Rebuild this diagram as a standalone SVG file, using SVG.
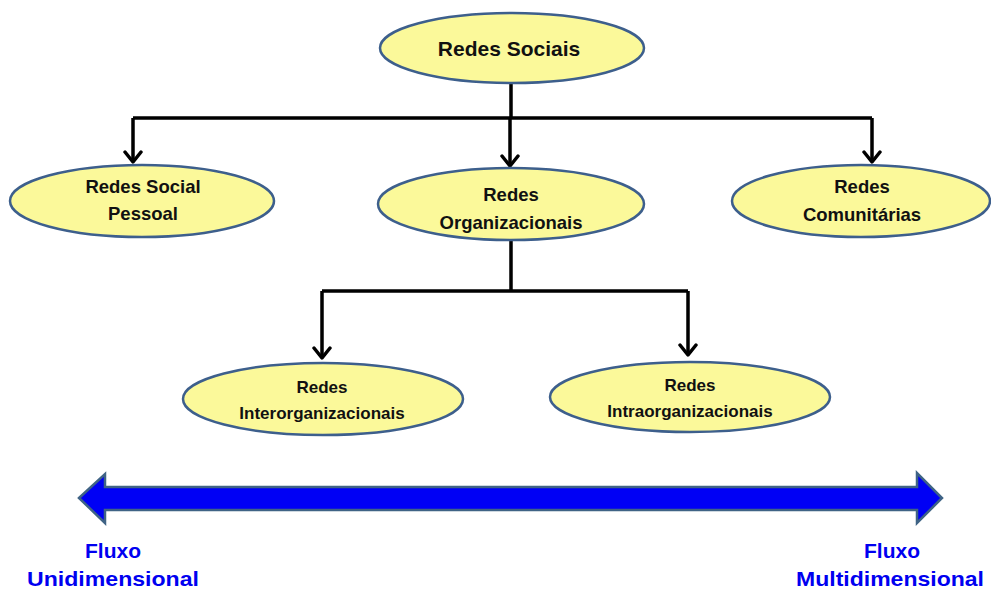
<svg xmlns="http://www.w3.org/2000/svg" width="991" height="592" viewBox="0 0 991 592">
  <style>
    .node ellipse { fill: #FBF99A; stroke: #3D5F8C; stroke-width: 2.5; }
    .node text { font-family: "Liberation Sans", Arial, sans-serif; font-weight: bold; fill: #111; text-anchor: middle; }
    .link { fill: none; stroke: #000; stroke-width: 3.5; stroke-linejoin: miter; }
    .head { fill: none; stroke: #000; stroke-width: 3.5; stroke-linecap: round; stroke-linejoin: round; }
    .flow text { font-family: "Liberation Sans", Arial, sans-serif; font-weight: bold; fill: #0000F0; text-anchor: middle; font-size: 21px; }
  </style>

  <rect width="991" height="592" fill="#FFFFFF"/>

  <!-- connectors -->
  <g id="connectors">
    <path class="link" d="M511 83 V118 M133 118 H872 M133 118 V162 M510 118 V166 M872 118 V162"/>
    <path class="head" d="M125 152 L133 162 L141 152 M502 156 L510 166 L518 156 M864 152 L872 162 L880 152"/>
    <path class="link" d="M511 240 V291 M322 291 H688 M322 291 V358 M688 291 V355"/>
    <path class="head" d="M314 348 L322 358 L330 348 M680 345 L688 355 L696 345"/>
  </g>

  <g id="redes-sociais" class="node">
    <ellipse cx="512" cy="48" rx="132" ry="35"/>
    <text x="509" y="56" font-size="21">Redes Sociais</text>
  </g>

  <g id="redes-social-pessoal" class="node">
    <ellipse cx="142" cy="201" rx="132" ry="36"/>
    <text x="143" y="193" font-size="18.5">Redes Social</text>
    <text x="143" y="220" font-size="18.5">Pessoal</text>
  </g>

  <g id="redes-organizacionais" class="node">
    <ellipse cx="511" cy="204" rx="133" ry="36"/>
    <text x="511" y="201" font-size="18.5">Redes</text>
    <text x="511" y="229" font-size="18.5">Organizacionais</text>
  </g>

  <g id="redes-comunitarias" class="node">
    <ellipse cx="861" cy="201" rx="129" ry="36"/>
    <text x="862" y="193" font-size="18.5">Redes</text>
    <text x="862" y="221" font-size="18.5">Comunitárias</text>
  </g>

  <g id="redes-interorganizacionais" class="node">
    <ellipse cx="323" cy="399" rx="140" ry="36"/>
    <text x="322" y="393" font-size="17">Redes</text>
    <text x="322" y="419" font-size="17">Interorganizacionais</text>
  </g>

  <g id="redes-intraorganizacionais" class="node">
    <ellipse cx="690" cy="397" rx="140" ry="35"/>
    <text x="690" y="391" font-size="17">Redes</text>
    <text x="690" y="417" font-size="17">Intraorganizacionais</text>
  </g>

  <!-- flow scale -->
  <g id="flow" class="flow">
    <path d="M79 498 L105 474 L105 487 L917 487 L917 473 L942 498 L917 523 L917 510 L105 510 L105 523 Z" fill="#0000F5" stroke="#3F6385" stroke-width="2.5" stroke-linejoin="miter"/>
    <text x="113" y="558">Fluxo</text>
    <text x="113" y="586" textLength="172" lengthAdjust="spacingAndGlyphs">Unidimensional</text>
    <text x="892" y="558">Fluxo</text>
    <text x="890" y="586" textLength="188" lengthAdjust="spacingAndGlyphs">Multidimensional</text>
  </g>
</svg>
